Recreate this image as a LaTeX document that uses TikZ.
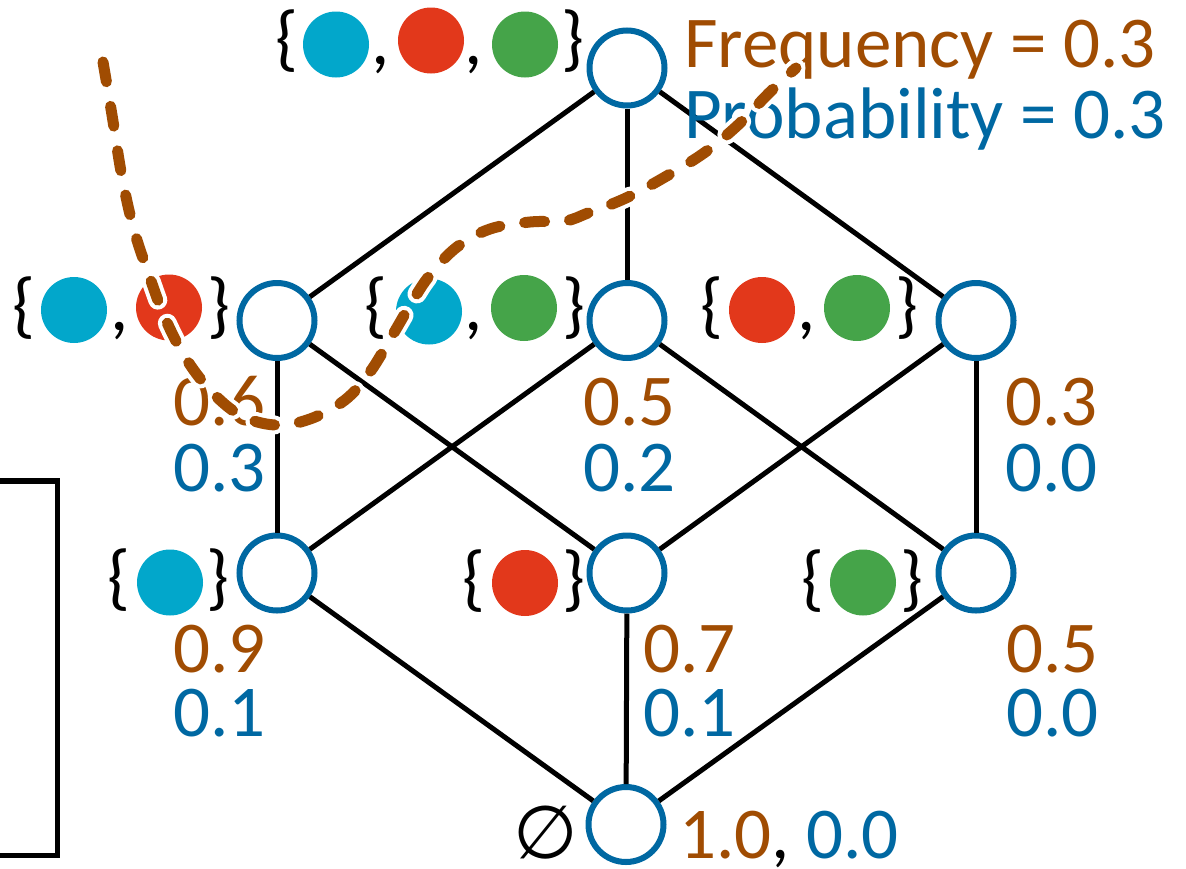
\documentclass[tikz,border=0pt]{standalone}
\usepackage{fontspec}
\setmainfont{Carlito}
\newfontfamily\symfont{DejaVu Sans}
\definecolor{nblue}{HTML}{0068A2}
\definecolor{fbrown}{HTML}{A04C02}
\definecolor{dcyan}{HTML}{02A7CB}
\definecolor{dred}{HTML}{E2381B}
\definecolor{dgreen}{HTML}{45A449}
\begin{document}
\begin{tikzpicture}[x=1pt,y=-1pt,
  setnode/.style={circle,draw=nblue,line width=6pt,fill=white,minimum size=75pt,inner sep=0pt},
  edgeline/.style={line width=5pt,black},
  txt/.style={inner sep=0pt,font=\fontsize{73}{80}\selectfont},
  num/.style={txt,anchor=base west},
  brc/.style={txt,anchor=center},
  freq/.style={num,text=fbrown},
  prob/.style={num,text=nblue},
  dashcurve/.style={draw=fbrown,line width=11pt,line cap=round,dash pattern=on 20pt off 25pt,
    preaction={draw=white,line width=19pt,line cap=round,dash pattern=on 20pt off 25pt}},
]
\useasboundingbox (0,0) rectangle (1186,868);
\clip (0,0) rectangle (1186,868);

% lattice nodes
\node[setnode] (abc) at (627,68) {};
\node[setnode] (ab) at (277,320.5) {};
\node[setnode] (ac) at (627,320.5) {};
\node[setnode] (bc) at (976,320.5) {};
\node[setnode] (a) at (277,573) {};
\node[setnode] (b) at (627,573) {};
\node[setnode] (c) at (976,573) {};
\node[setnode] (e) at (626,824.5) {};

% edges
\draw[edgeline] (abc) -- (ab);
\draw[edgeline] (abc) -- (ac);
\draw[edgeline] (abc) -- (bc);
\draw[edgeline] (ab) -- (a);
\draw[edgeline] (ab) -- (b);
\draw[edgeline] (ac) -- (a);
\draw[edgeline] (ac) -- (c);
\draw[edgeline] (bc) -- (b);
\draw[edgeline] (bc) -- (c);
\draw[edgeline] (a) -- (e);
\draw[edgeline] (b) -- (e);
\draw[edgeline] (c) -- (e);

% set labels: top
\node[brc] (t1) at (286.5,41.5) {\{};
\fill[dcyan] (336,44.5) circle[radius=33pt];
\node[brc] (t2) at (381,65) {,};
\fill[dred] (431,40.5) circle[radius=33pt];
\node[brc] (t3) at (474,65) {,};
\fill[dgreen] (525,44.5) circle[radius=33pt];
\node[brc] (t4) at (573,41.5) {\}};

% middle row labels
\node[brc] (l1) at (23.5,308.5) {\{};
\fill[dcyan] (74,310) circle[radius=33pt];
\node[brc] (l2) at (120,331) {,};
\fill[dred] (169,307.5) circle[radius=33pt];
\node[brc] (l3) at (218.5,308.5) {\}};

\node[brc] (m1) at (376,308) {\{};
\fill[dcyan] (429,311.5) circle[radius=33pt];
\node[brc] (m2) at (474,331) {,};
\fill[dgreen] (524,308) circle[radius=33pt];
\node[brc] (m3) at (573.5,308) {\}};

\node[brc] (r1) at (712,308) {\{};
\fill[dred] (762,310) circle[radius=33pt];
\node[brc] (r2) at (807,331) {,};
\fill[dgreen] (857,308) circle[radius=33pt];
\node[brc] (r3) at (906.5,308) {\}};

% lower row labels
\node[brc] (la1) at (118.5,580.5) {\{};
\fill[dcyan] (170,582.5) circle[radius=33pt];
\node[brc] (la2) at (218,580.5) {\}};

\node[brc] (lb1) at (474,581) {\{};
\fill[dred] (525,583) circle[radius=33pt];
\node[brc] (lb2) at (574,581) {\}};

\node[brc] (lc1) at (813,581) {\{};
\fill[dgreen] (863,582.5) circle[radius=33pt];
\node[brc] (lc2) at (912,581) {\}};

\node[txt,anchor=center,font=\symfont\fontsize{74}{80}\selectfont] (es) at (546,833) {∅};

% numbers
\node[freq] (fab) at (173,425) {0.6};
\node[prob] (pab) at (173,491) {0.3};
\node[freq] (fac) at (583,425) {0.5};
\node[prob] (pac) at (583,491) {0.2};
\node[freq] (fbc) at (1005,425) {0.3};
\node[prob] (pbc) at (1005,491) {0.0};
\node[freq] (fa) at (173,672) {0.9};
\node[prob] (pa) at (173,736) {0.1};
\node[freq] (fb) at (643,672) {0.7};
\node[prob] (pb) at (643,736) {0.1};
\node[freq] (fc) at (1006,672) {0.5};
\node[prob] (pc) at (1006,736) {0.0};
\node[num] (fe) at (679,858) {\textcolor{fbrown}{1.0}, \textcolor{nblue}{0.0}};

\node[freq] (ftitle) at (684,67) {Frequency = 0.3};
\node[prob] (ptitle) at (684,138) {Probability = 0.3};

% left box
\draw[line width=5.5pt] (-20,481) rectangle (57.5,855.5);

% dashed curve
\draw[dashcurve] plot[smooth,tension=0.6] coordinates {(103,62) (112,115) (122,177) (134,230) (150,278) (165,318) (185,357) (210,390) (240,415) (275,425) (310,419) (345,400) (370,372) (392,336) (412,302) (430,275) (457,247) (490,229) (530,222) (565,221) (588,213) (626,198) (665,177) (704,153) (738,125) (769,93) (796,68)};
\end{tikzpicture}
\end{document}
